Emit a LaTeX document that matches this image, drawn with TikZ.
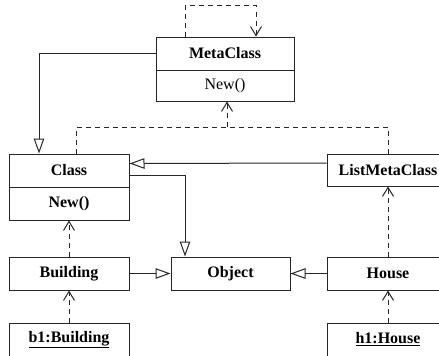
\documentclass[tikz,border=0pt]{standalone}
\usepackage{fontspec}
\setmainfont{Liberation Serif}
\usetikzlibrary{arrows.meta}
\begin{document}
\begin{tikzpicture}[x=1pt,y=-1pt,
  line width=1pt, draw=black!85,
  umlbox/.style={draw, rectangle, inner sep=0pt, font=\fontsize{16}{18}\selectfont\bfseries},
  plainbox/.style={umlbox, font=\fontsize{16}{18}\selectfont},
  dashline/.style={dashed, dash pattern=on 5pt off 4pt},
  dep/.style={dashline, -{Straight Barb[length=9pt,width=11pt,line width=1pt]}},
  gen/.style={-{Triangle[open,length=15pt,width=10.5pt,line width=1pt]}}]
\useasboundingbox (0,0) rectangle (439,356);
\clip (0,0) rectangle (439,356);

% class boxes
\node[umlbox, minimum width=138pt, minimum height=33pt] (meta) at (225,53.5) {MetaClass};
\node[plainbox, minimum width=138pt, minimum height=31pt] (metaop) at (225,85.5) {New()};
\node[umlbox, minimum width=120pt, minimum height=33pt] (cls) at (69,170.5) {Class};
\node[umlbox, minimum width=120pt, minimum height=33pt] (clsop) at (69,203.5) {New()};
\node[umlbox, minimum width=122pt, minimum height=32pt] (listmeta) at (388,170) {ListMetaClass};
\node[umlbox, minimum width=120pt, minimum height=33pt] (building) at (69,273.5) {Building};
\node[umlbox, minimum width=119pt, minimum height=33pt] (object) at (230.5,273.5) {Object};
\node[umlbox, minimum width=122pt, minimum height=33pt] (house) at (388,273.5) {House};
\node[umlbox, minimum width=120pt, minimum height=33pt] (b1) at (69,339.5) {\underline{b1:Building}};
\node[umlbox, minimum width=122pt, minimum height=33pt] (h1) at (388,339.5) {\underline{h1:House}};

% MetaClass instantiates itself
\draw[dep] ([xshift=-40pt]meta.north) -- ++(0,-31) -| ([xshift=31pt]meta.north);

% inheritance
\draw[gen] (meta.west) -| ([xshift=-30pt]cls.north);
\draw[gen] ([yshift=7pt]listmeta.west) -- ([yshift=7pt]cls.east);
\draw[gen] ([yshift=-4.5pt]cls.east) -| ([xshift=-45.5pt]object.north);
\draw[gen] (building.east) -- (object.west);
\draw[gen] (house.west) -- (object.east);

% metaclass dependencies
\coordinate (j) at (227,127);
\draw[dashline] ([xshift=7pt]cls.north) |- (j);
\draw[dashline] (listmeta.north) |- (j);
\draw[dep] (j) -- (j |- metaop.south);
\draw[dep] (building.north) -- (clsop.south);
\draw[dep] (house.north) -- (listmeta.south);
\draw[dep] (b1.north) -- (building.south);
\draw[dep] (h1.north) -- (house.south);
\end{tikzpicture}
\end{document}
